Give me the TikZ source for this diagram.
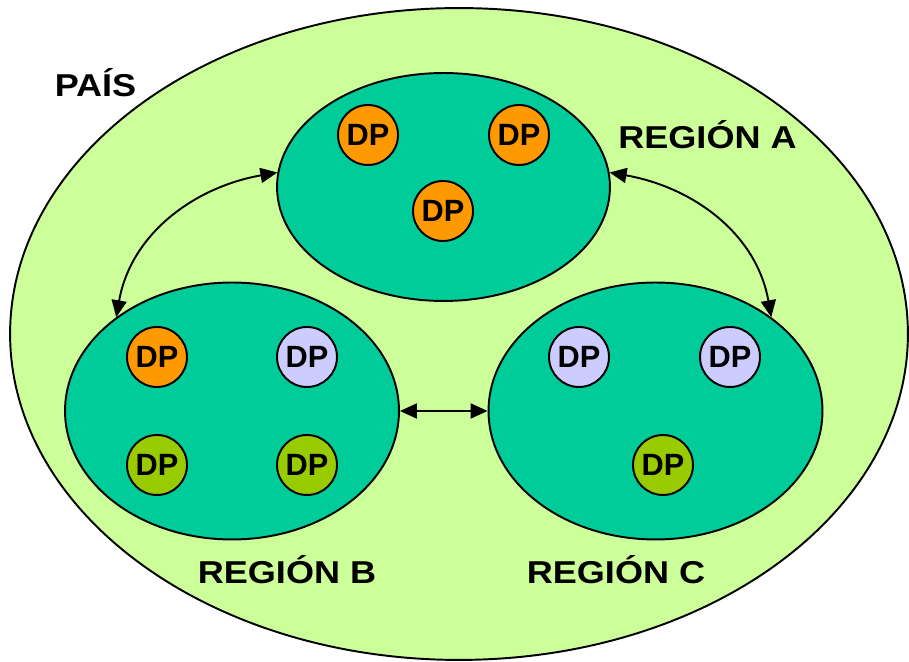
\documentclass[tikz,border=0pt]{standalone}
\usepackage{fontspec}
\setmainfont{Liberation Sans}
\usetikzlibrary{shapes.geometric,arrows.meta}
\definecolor{paisfondo}{HTML}{CCFF99}
\definecolor{regionfondo}{HTML}{00CC99}
\definecolor{naranja}{HTML}{FF9900}
\definecolor{lila}{HTML}{CCCCFF}
\definecolor{oliva}{HTML}{99CC00}
\tikzset{
  region/.style={ellipse, draw, line width=1.1pt, fill=regionfondo, inner sep=0pt},
  dp/.style={circle, draw, line width=1.1pt, inner sep=0pt, minimum size=1.2cm,
    font=\bfseries\fontsize{17.5}{19}\selectfont},
  etiqueta/.style={anchor=base, inner sep=0pt, xscale=1.14, transform shape,
    font=\bfseries\fontsize{18}{20}\selectfont},
  flecha/.style={line width=1.1pt, {Triangle[length=3.4mm,width=3mm]}-{Triangle[length=3.4mm,width=3mm]}}
}
\begin{document}
\begin{tikzpicture}[x=0.02cm, y=0.02cm, line join=round, line cap=round]
	\useasboundingbox (0,0) rectangle (909,662);
	\node[ellipse, draw, line width=1.1pt, fill=paisfondo, inner sep=0pt,
		minimum width=17.96cm, minimum height=13.04cm] (pais) at (459,328) {};
	\node[region, minimum width=6.66cm, minimum height=4.56cm] (A) at (443.5,475) {};
	\node[region, minimum width=6.68cm, minimum height=5.14cm] (B) at (232,251) {};
	\node[region, minimum width=6.68cm, minimum height=5.14cm] (C) at (655.5,251) {};
	\foreach \n/\x/\y/\c in {a1/368/527/naranja, a2/519/527/naranja, a3/443/451/naranja,
		b1/157/305/naranja, b2/307/305/lila, b3/157/197/oliva, b4/307/197/oliva,
		c1/579/305/lila, c2/730/305/lila, c3/663/197/oliva}{
		\node[dp, fill=\c] (\n) at (\x,\y) {DP};}
	\node[etiqueta] (lpais) at (95.5,565) {PAÍS};
	\node[etiqueta] (lA) at (707.5,513) {REGIÓN A};
	\node[etiqueta] (lB) at (287,78) {REGIÓN B};
	\node[etiqueta] (lC) at (616,78) {REGIÓN C};
	\draw[flecha] (A.175) to[out=190, in=80] (B.141);
	\draw[flecha] (A.5) to[out=-10, in=100] (C.39);
	\draw[flecha] (B.east) -- (C.west);
\end{tikzpicture}
\end{document}
